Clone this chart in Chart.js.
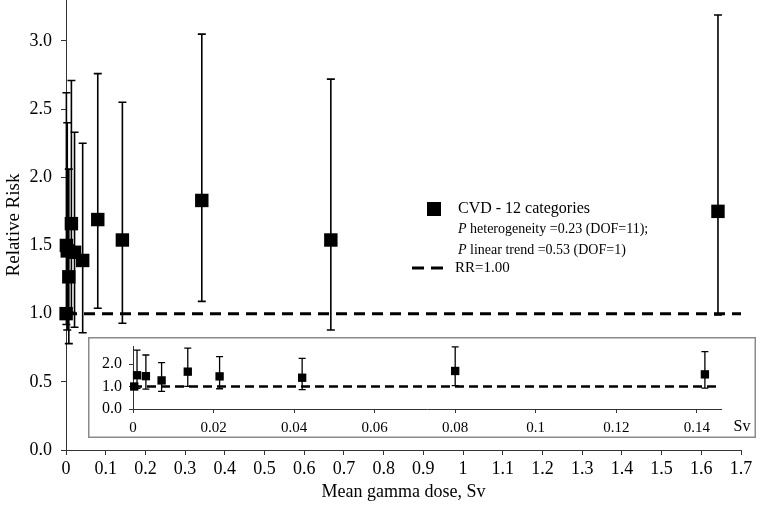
<!DOCTYPE html>
<html>
<head>
<meta charset="utf-8">
<script src="https://cdn.jsdelivr.net/npm/chart.js@4.4.0/dist/chart.umd.min.js"></script>
<style>
  html, body { margin: 0; padding: 0; background: #fff; }
  #wrap { position: relative; width: 769px; height: 511px; }
  #main { position: absolute; left: 0; top: 0; }
  #inset { position: absolute; left: 88px; top: 337px; }
</style>
</head>
<body>
<div id="wrap">
  <canvas id="main" width="769" height="511"></canvas>
  <canvas id="inset" width="668" height="101"></canvas>
</div>
<script>
// dose categories (Sv) and relative risk with 95% CI
const doses  = [0.0003, 0.001, 0.0032, 0.0071, 0.0136, 0.0215, 0.042, 0.080, 0.142, 0.342, 0.667, 1.642];
const rr     = [1.00, 1.50, 1.46, 1.27, 1.66, 1.45, 1.39, 1.69, 1.54, 1.83, 1.54, 1.75];
const ciLow  = [null, 0.92, 0.88, 0.78, 1.01, 0.90, 0.86, 1.04, 0.93, 1.09, 0.88, 0.99];
const ciHigh = [null, 2.62, 2.40, 2.06, 2.71, 2.33, 2.25, 2.76, 2.55, 3.05, 2.72, 3.19];
const refRR = 1.0;

const mainYTicks  = [0, 0.5, 1.0, 1.5, 2.0, 2.5, 3.0];
const insetXTicks = [0, 0.02, 0.04, 0.06, 0.08, 0.1, 0.12, 0.14];
const insetYTicks = [0, 1, 2];

const legendLabel = 'CVD - 12 categories';
const legendNotes = [
    ['P', ' heterogeneity =0.23 (DOF=11);'],
    ['P', ' linear trend =0.53 (DOF=1)']
];
const refLabel = 'RR=1.00';

const SERIF = '"Liberation Serif", "Times New Roman", serif';

// error bars are drawn from the CI arrays through the chart's own scales
const errorBars = {
    id: 'errorBars',
    beforeDatasetsDraw(chart, args, opts) {
        const { ctx, scales: { x, y } } = chart;
        ctx.save();
        ctx.strokeStyle = '#000';
        ctx.lineWidth = opts.width;
        doses.forEach((d, i) => {
            if (ciLow[i] == null || d > opts.maxDose) return;
            const px = x.getPixelForValue(d);
            const top = y.getPixelForValue(ciHigh[i]);
            const bot = y.getPixelForValue(ciLow[i]);
            ctx.beginPath();
            ctx.moveTo(px, top); ctx.lineTo(px, bot);
            ctx.moveTo(px - opts.cap, top); ctx.lineTo(px + opts.cap, top);
            ctx.moveTo(px - opts.cap, bot); ctx.lineTo(px + opts.cap, bot);
            ctx.stroke();
        });
        ctx.restore();
    }
};

// legend block in the middle of the main plot
const mainLegend = {
    id: 'mainLegend',
    afterDraw(chart) {
        const ctx = chart.ctx;
        ctx.save();
        ctx.fillStyle = '#000';
        ctx.textBaseline = 'middle';
        ctx.fillRect(427, 202, 14, 14);
        ctx.font = '16px ' + SERIF;
        ctx.fillText(legendLabel, 458, 209);

        legendNotes.forEach((parts, k) => {
            const ly = 229 + k * 21;
            ctx.font = 'italic 14px ' + SERIF;
            ctx.fillText(parts[0], 458, ly);
            const w = ctx.measureText(parts[0]).width;
            ctx.font = '14px ' + SERIF;
            ctx.fillText(parts[1], 458 + w, ly);
        });

        ctx.strokeStyle = '#000';
        ctx.lineWidth = 3;
        ctx.setLineDash([12, 7]);
        ctx.beginPath();
        ctx.moveTo(412, 268); ctx.lineTo(443, 268);
        ctx.stroke();
        ctx.setLineDash([]);
        ctx.font = '15px ' + SERIF;
        ctx.fillText(refLabel, 455, 268);
        ctx.restore();
    }
};

// white box with grey frame + "Sv" unit label for the inset
const insetFrame = {
    id: 'insetFrame',
    beforeDraw(chart) {
        const { ctx, width, height } = chart;
        ctx.save();
        ctx.fillStyle = '#fff';
        ctx.fillRect(0, 0, width, height);
        ctx.strokeStyle = '#8a8a8a';
        ctx.lineWidth = 1.5;
        ctx.strokeRect(0.75, 0.75, width - 1.5, height - 1.5);
        ctx.restore();
    },
    afterDraw(chart) {
        const ctx = chart.ctx;
        ctx.save();
        ctx.fillStyle = '#000';
        ctx.font = '16px ' + SERIF;
        ctx.textAlign = 'center';
        ctx.textBaseline = 'middle';
        ctx.fillText('Sv', 654, 90);
        ctx.restore();
    }
};

function fmt(digits) {
    return v => String(Number(v.toFixed(digits)));
}

function useTicks(values) {
    return s => { s.ticks = values.map(v => ({ value: v })); };
}

function axisStyle(size) {
    return {
        grid: { display: true, drawOnChartArea: false, drawTicks: true, tickLength: 5, color: '#333' },
        border: { display: true, color: '#333', width: 1 },
        ticks: { color: '#000', font: { family: SERIF, size: size }, autoSkip: false, maxRotation: 0 }
    };
}

Chart.defaults.animation = false;

// main chart
(function () {
    const xs = axisStyle(18), ys = axisStyle(18);
    new Chart(document.getElementById('main'), {
        type: 'scatter',
        data: {
            datasets: [{
                label: legendLabel,
                data: doses.map((d, i) => ({ x: d, y: rr[i] })),
                pointStyle: 'rect',
                pointRadius: 9.5,
                backgroundColor: '#000',
                borderWidth: 0,
                clip: false,
                order: 0
            }, {
                type: 'line',
                label: refLabel,
                data: [{ x: 0, y: refRR }, { x: 1.7, y: refRR }],
                borderColor: '#000',
                borderWidth: 3,
                borderDash: [11, 7],
                pointRadius: 0,
                order: 1
            }]
        },
        options: {
            responsive: false,
            layout: { autoPadding: false, padding: { top: 0, left: 0, bottom: 0, right: 28 } },
            plugins: {
                legend: { display: false },
                tooltip: { enabled: false },
                errorBars: { width: 1.6, cap: 4, maxDose: 99 }
            },
            scales: {
                x: {
                    type: 'linear', min: 0, max: 1.7,
                    grid: xs.grid, border: xs.border,
                    ticks: Object.assign({}, xs.ticks, { stepSize: 0.1, padding: 3, callback: fmt(1) }),
                    title: { display: true, text: 'Mean gamma dose, Sv', color: '#000',
                             font: { family: SERIF, size: 18 }, padding: { top: 4, bottom: 8 } },
                    afterFit(s) { s.height = 61; s.paddingLeft = 0; s.paddingRight = 0; }
                },
                y: {
                    type: 'linear', min: 0, max: 3.3,
                    grid: ys.grid, border: ys.border,
                    ticks: Object.assign({}, ys.ticks, { padding: 9, callback: v => v.toFixed(1) }),
                    title: { display: true, text: 'Relative Risk', color: '#000',
                             font: { family: SERIF, size: 19 }, padding: { top: 3, bottom: 4 } },
                    afterBuildTicks: useTicks(mainYTicks),
                    afterFit(s) { s.width = 66; s.paddingTop = 0; s.paddingBottom = 0; }
                }
            }
        },
        plugins: [errorBars, mainLegend]
    });
})();

// inset: zoom on the low-dose categories
(function () {
    const xs = axisStyle(15), ys = axisStyle(16);
    const insetMax = 0.146;
    new Chart(document.getElementById('inset'), {
        type: 'scatter',
        data: {
            datasets: [{
                data: doses.map((d, i) => ({ x: d, y: rr[i] })).filter(p => p.x <= insetMax),
                pointStyle: 'rect',
                pointRadius: 5.9,
                backgroundColor: '#000',
                borderWidth: 0,
                clip: false,
                order: 0
            }, {
                type: 'line',
                data: [{ x: 0, y: refRR }, { x: insetMax, y: refRR }],
                borderColor: '#000',
                borderWidth: 2.5,
                borderDash: [9, 5],
                pointRadius: 0,
                order: 1
            }]
        },
        options: {
            responsive: false,
            layout: { autoPadding: false, padding: { top: 9, left: 0, bottom: 0, right: 35 } },
            plugins: {
                legend: { display: false },
                tooltip: { enabled: false },
                errorBars: { width: 1.3, cap: 3.5, maxDose: insetMax }
            },
            scales: {
                x: {
                    type: 'linear', min: 0, max: insetMax,
                    grid: Object.assign({}, xs.grid, { tickLength: 4 }), border: xs.border,
                    ticks: Object.assign({}, xs.ticks, { padding: 6, callback: fmt(2) }),
                    afterBuildTicks: useTicks(insetXTicks),
                    afterFit(s) { s.height = 29; s.paddingLeft = 0; s.paddingRight = 0; }
                },
                y: {
                    type: 'linear', min: 0, max: 2.8,
                    grid: Object.assign({}, ys.grid, { tickLength: 4 }), border: ys.border,
                    ticks: Object.assign({}, ys.ticks, { padding: 7, callback: v => v.toFixed(1) }),
                    afterBuildTicks: useTicks(insetYTicks),
                    afterFit(s) { s.width = 45; s.paddingTop = 0; s.paddingBottom = 0; }
                }
            }
        },
        plugins: [insetFrame, errorBars]
    });
})();
</script>
</body>
</html>
